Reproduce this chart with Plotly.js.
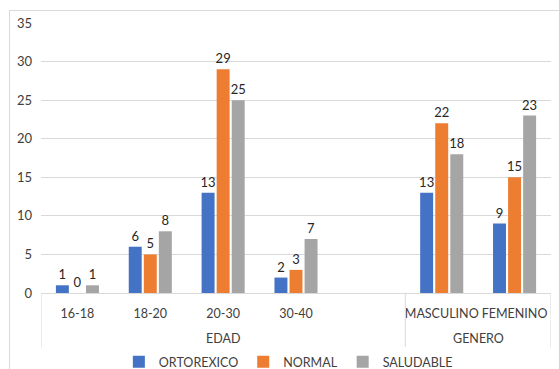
<!DOCTYPE html>
<html>
<head>
<meta charset="utf-8">
<script src="https://cdn.plot.ly/plotly-3.0.1.min.js"></script>
<style>
html,body{margin:0;padding:0;background:#fff;}
#wrap{position:relative;width:559px;height:369px;}
#chart{width:559px;height:369px;}
#frame{position:absolute;left:9px;top:10px;width:560px;height:370px;border:1px solid #d9d9d9;pointer-events:none;}
</style>
</head>
<body>
<div id="wrap"><div id="chart"></div><div id="frame"></div></div>
<script>
const groups = ['EDAD','EDAD','EDAD','EDAD','EDAD','GENERO','GENERO'];
const categories = ['16-18','18-20','20-30','30-40',' ','MASCULINO','FEMENINO'];
const seriesNames = ['ORTOREXICO','NORMAL','SALUDABLE'];
const ortorexico = [1, 6, 13, 2, null, 13, 9];
const normal = [0, 5, 29, 3, null, 22, 15];
const saludable = [1, 8, 25, 7, null, 18, 23];
const colors = ['#4472C4','#ED7D31','#A5A5A5'];

const FONT = 'Lato, "Liberation Sans", sans-serif';
const TXT = '#404040';
const values = [ortorexico, normal, saludable];
const traces = values.map((v, i) => ({
  type: 'bar',
  name: seriesNames[i],
  x: categories,
  y: v,
  text: v.map(d => d === null ? '' : String(d)),
  textposition: 'outside',
  constraintext: 'none',
  cliponaxis: false,
  textfont: {family: FONT, size: 13, color: '#262626'},
  marker: {color: colors[i]},
  hoverinfo: 'none'
}));

// group spans derived from the groups array (category index units)
const spans = [];
groups.forEach((g, i) => {
  if (i === 0 || g !== groups[i - 1]) spans.push({name: g, start: i, end: i});
  else spans[spans.length - 1].end = i;
});
const dividerBottom = -0.204;
const shapes = [];
const annotations = [];
spans.forEach((s, k) => {
  if (k === 0) shapes.push({type: 'line', xref: 'x', yref: 'paper', x0: s.start - 0.5, x1: s.start - 0.5, y0: 0, y1: dividerBottom, line: {color: '#d9d9d9', width: 1}});
  shapes.push({type: 'line', xref: 'x', yref: 'paper', x0: s.end + 0.5, x1: s.end + 0.5, y0: 0, y1: dividerBottom, line: {color: '#d9d9d9', width: 1}});
  annotations.push({xref: 'x', yref: 'paper', x: (s.start + s.end) / 2, y: -0.17, yanchor: 'middle', xanchor: 'center',
    text: s.name, showarrow: false, font: {family: FONT, size: 12.5, color: TXT}});
});

const layout = {
  width: 559, height: 369,
  margin: {l: 41, r: 8, t: 23, b: 76, autoexpand: false},
  paper_bgcolor: '#fff', plot_bgcolor: '#fff',
  font: {family: FONT, size: 13, color: TXT},
  barmode: 'group',
  bargap: 0.38,
  bargroupgap: 0.14,
  showlegend: true,
  legend: {orientation: 'h', x: 0.485, xanchor: 'center', y: -0.256, yanchor: 'middle',
           font: {family: FONT, size: 12.5, color: TXT}, itemwidth: 30, tracegroupgap: 0},
  shapes: shapes,
  annotations: annotations,
  xaxis: {
    type: 'category',
    categoryorder: 'array',
    categoryarray: categories,
    range: [-0.5, categories.length - 0.5],
    tickangle: 0,
    showgrid: false,
    showline: false,
    zeroline: false,
    ticks: '',
    ticklabelstandoff: 11,
    tickfont: {family: FONT, size: 12.5, color: TXT},
    automargin: false
  },
  yaxis: {
    range: [0, 35],
    dtick: 5,
    tick0: 0,
    showgrid: true,
    gridcolor: '#d9d9d9',
    gridwidth: 1,
    zeroline: true,
    zerolinecolor: '#d9d9d9',
    zerolinewidth: 1,
    showline: false,
    ticks: '',
    ticklabelstandoff: 8,
    tickfont: {family: FONT, size: 13, color: TXT},
    automargin: false,
    fixedrange: true
  }
};

Plotly.newPlot('chart', traces, layout, {displayModeBar: false, staticPlot: true});
</script>
</body>
</html>
